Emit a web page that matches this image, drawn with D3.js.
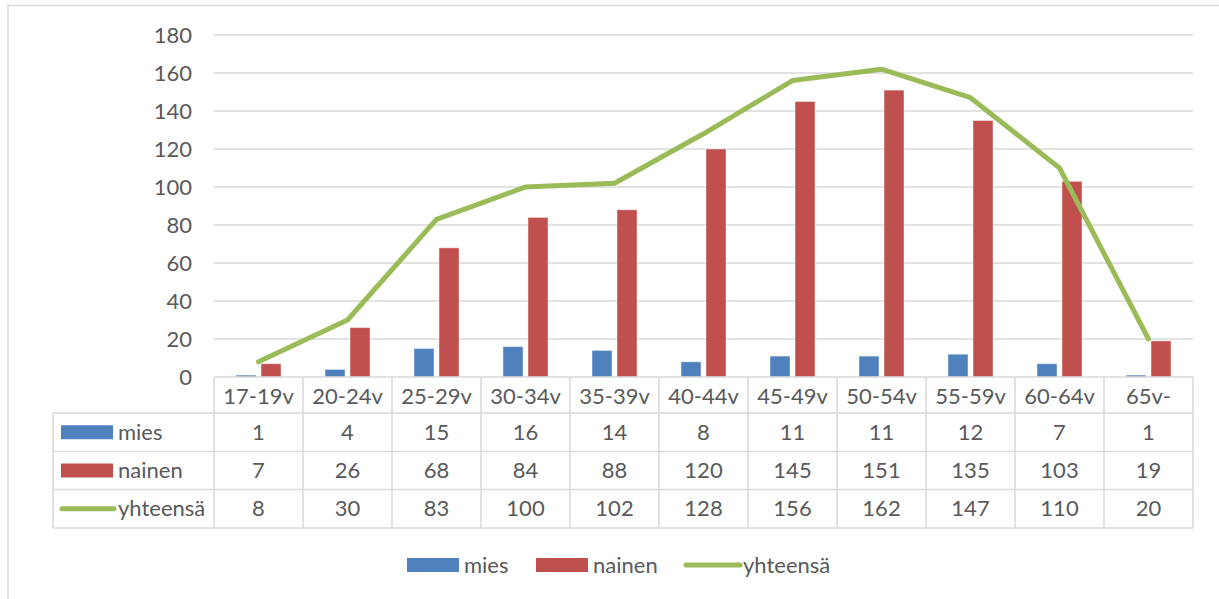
<!DOCTYPE html>
<html><head><meta charset="utf-8">
<script src="https://cdn.jsdelivr.net/npm/d3@7"></script>
<style>
html,body{margin:0;padding:0;background:#fff;}
text{font-family:Lato,"Open Sans",sans-serif;fill:#595959;}
</style></head>
<body>
<svg id="chart" width="1219" height="599"></svg>
<script>
const categories = ["17-19v","20-24v","25-29v","30-34v","35-39v","40-44v","45-49v","50-54v","55-59v","60-64v","65v-"];
const mies = [1,4,15,16,14,8,11,11,12,7,1];
const nainen = [7,26,68,84,88,120,145,151,135,103,19];
const yhteensa = [8,30,83,100,102,128,156,162,147,110,20];
const seriesNames = ["mies","nainen","yhteensä"];
const yTicks = [0,20,40,60,80,100,120,140,160,180];

(function(){
const colors = {mies:"#4f81bd", nainen:"#c0504d", yhteensa:"#9bbb59"};
const svg = d3.select("#chart");
const fs = 22;

// outer border
svg.append("rect").attr("x",8).attr("y",5.5).attr("width",1230).attr("height",620)
  .attr("fill","none").attr("stroke","#d9d9d9").attr("stroke-width",1.5);

const pLeft = 214, pRight = 1193, pTop = 35, pBottom = 377;
const x = d3.scaleBand().domain(categories).range([pLeft,pRight]).padding(0);
const y = d3.scaleLinear().domain([0,180]).range([pBottom,pTop]);
const bw = x.bandwidth();

// gridlines
svg.append("g").selectAll("line").data(yTicks.filter(d=>d>0)).join("line")
  .attr("x1",pLeft).attr("x2",pRight).attr("y1",d=>y(d)).attr("y2",d=>y(d))
  .attr("stroke","#d9d9d9").attr("stroke-width",1.5);

// y labels
svg.append("g").selectAll("text").data(yTicks).join("text")
  .attr("x",192).attr("y",d=>y(d)).attr("text-anchor","end").attr("dy","0.35em")
  .attr("font-size",fs).text(d=>d);

// bars
const barW = bw*0.225, gap = bw*0.056;
svg.append("g").selectAll("rect").data(mies).join("rect")
  .attr("x",(d,i)=>x(categories[i])+bw/2-gap/2-barW)
  .attr("y",d=>y(d)).attr("width",barW).attr("height",d=>pBottom-y(d))
  .attr("fill",colors.mies).attr("stroke","rgba(255,255,255,0.45)").attr("stroke-width",1);
svg.append("g").selectAll("rect").data(nainen).join("rect")
  .attr("x",(d,i)=>x(categories[i])+bw/2+gap/2)
  .attr("y",d=>y(d)).attr("width",barW).attr("height",d=>pBottom-y(d))
  .attr("fill",colors.nainen).attr("stroke","rgba(255,255,255,0.45)").attr("stroke-width",1);

// line
const line = d3.line().x((d,i)=>x(categories[i])+bw/2).y(d=>y(d));
svg.append("path").datum(yhteensa).attr("d",line).attr("fill","none")
  .attr("stroke",colors.yhteensa).attr("stroke-width",5).attr("stroke-linejoin","round").attr("stroke-linecap","round");

// data table
const rowsY = [377,413,451.5,489.5,528];
const tleft = 53;
const tg = svg.append("g");
const gridC = "#d9d9d9";
tg.append("line").attr("x1",pLeft).attr("x2",pRight).attr("y1",rowsY[0]).attr("y2",rowsY[0]).attr("stroke",gridC).attr("stroke-width",1.5);
for(let r=1;r<rowsY.length;r++){
  tg.append("line").attr("x1",tleft).attr("x2",pRight).attr("y1",rowsY[r]).attr("y2",rowsY[r]).attr("stroke",gridC).attr("stroke-width",1.5);
}
tg.append("line").attr("x1",tleft).attr("x2",tleft).attr("y1",rowsY[1]).attr("y2",rowsY[4]).attr("stroke",gridC).attr("stroke-width",1.5);
categories.forEach((c,i)=>{
  tg.append("line").attr("x1",x(c)).attr("x2",x(c)).attr("y1",rowsY[0]).attr("y2",rowsY[4]).attr("stroke",gridC).attr("stroke-width",1.5);
});
tg.append("line").attr("x1",pRight).attr("x2",pRight).attr("y1",rowsY[0]).attr("y2",rowsY[4]).attr("stroke",gridC).attr("stroke-width",1.5);

tg.selectAll("text.h").data(categories).join("text").attr("class","h")
  .attr("x",d=>x(d)+bw/2).attr("y",(rowsY[0]+rowsY[1])/2+1).attr("dy","0.35em")
  .attr("text-anchor","middle").attr("font-size",fs).text(d=>d);

const tableSeries = [mies,nainen,yhteensa];
tableSeries.forEach((arr,r)=>{
  const cy = (rowsY[r+1]+rowsY[r+2])/2;
  tg.append("g").selectAll("text").data(arr).join("text")
    .attr("x",(d,i)=>x(categories[i])+bw/2).attr("y",cy).attr("dy","0.35em")
    .attr("text-anchor","middle").attr("font-size",fs).text(d=>d);
  if(r<2){
    tg.append("rect").attr("x",61).attr("y",cy-7).attr("width",52).attr("height",14)
      .attr("fill",r===0?colors.mies:colors.nainen);
  } else {
    tg.append("line").attr("x1",62).attr("x2",114).attr("y1",cy).attr("y2",cy)
      .attr("stroke",colors.yhteensa).attr("stroke-width",5).attr("stroke-linecap","round");
  }
  tg.append("text").attr("x",118).attr("y",cy).attr("dy","0.35em").attr("font-size",fs).text(seriesNames[r]);
});

// legend
const lg = svg.append("g");
const ly = 565;
lg.append("rect").attr("x",407).attr("y",ly-7).attr("width",52).attr("height",14).attr("fill",colors.mies);
lg.append("text").attr("x",464).attr("y",ly).attr("dy","0.35em").attr("font-size",fs).text(seriesNames[0]);
lg.append("rect").attr("x",536).attr("y",ly-7).attr("width",52).attr("height",14).attr("fill",colors.nainen);
lg.append("text").attr("x",593).attr("y",ly).attr("dy","0.35em").attr("font-size",fs).text(seriesNames[1]);
lg.append("line").attr("x1",686).attr("x2",740).attr("y1",ly).attr("y2",ly)
  .attr("stroke",colors.yhteensa).attr("stroke-width",5).attr("stroke-linecap","round");
lg.append("text").attr("x",743).attr("y",ly).attr("dy","0.35em").attr("font-size",fs).text(seriesNames[2]);
})();
</script>
</body></html>
